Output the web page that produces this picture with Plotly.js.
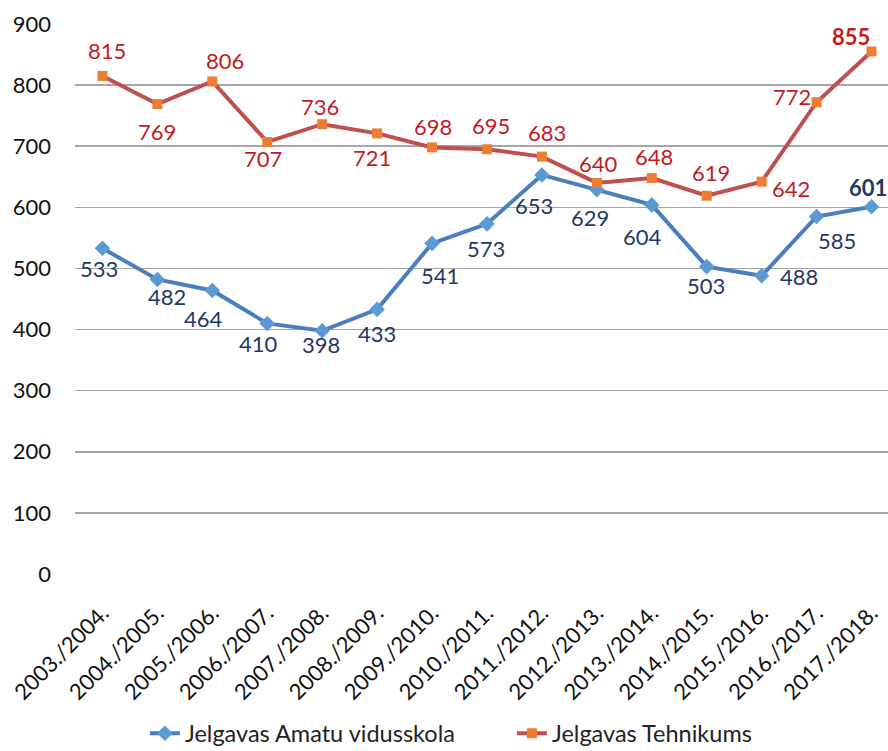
<!DOCTYPE html>
<html><head><meta charset="utf-8">
<script src="https://cdn.plot.ly/plotly-3.0.1.min.js"></script>
<style>html,body{margin:0;padding:0;overflow:hidden;background:#fff}</style>
</head><body><div id="chart" style="width:888px;height:751px"></div>
<script>
const categories = ["2003./2004.","2004./2005.","2005./2006.","2006./2007.","2007./2008.","2008./2009.","2009./2010.","2010./2011.","2011./2012.","2012./2013.","2013./2014.","2014./2015.","2015./2016.","2016./2017.","2017./2018."];
const amatuValues = [533,482,464,410,398,433,541,573,653,629,604,503,488,585,601];
const tehnikumsValues = [815,769,806,707,736,721,698,695,683,640,648,619,642,772,855];
const seriesNames = ["Jelgavas Amatu vidusskola","Jelgavas Tehnikums"];
const yTicks = [0,100,200,300,400,500,600,700,800,900];

// label placement offsets in pixels [dx, dy(up)] — styling only
const amatuLabelOffsets = [[-3,-20],[10,-17],[-9,-28],[-9,-20],[-1,-14],[0,-24],[8,-32],[-1,-25],[-8,-31],[-7,-28],[-9,-32],[-1,-19],[37,-1],[20,-24],[-4,19]];
const tehLabelOffsets = [[5,25],[0,-27],[13,21],[-4,-17],[-2,18],[-5,-24],[1,21],[4,24],[5,24],[2,19],[2,22],[4,23],[29,-7],[-25,6],[-21,15]];

const xs = categories.map((c,i)=>i);
const font = "Lato, 'Open Sans', sans-serif";
const blueLabel = "#1f3864", redLabel = "#c41a1f";

const traces = [
  {x: xs, y: amatuValues, name: seriesNames[0], type: "scatter", mode: "lines+markers",
   line: {color: "#4a7ebf", width: 4}, marker: {symbol: "diamond", size: 12, color: "#5b9bd5"},
   cliponaxis: false, hoverinfo: "none"},
  {x: xs, y: tehnikumsValues, name: seriesNames[1], type: "scatter", mode: "lines+markers",
   line: {color: "#c0504d", width: 4}, marker: {symbol: "square", size: 10, color: "#ed7d31"},
   cliponaxis: false, hoverinfo: "none"}
];

function labels(values, offsets, color) {
  return values.map((v,i)=>({
    x: xs[i], y: v, xref: "x", yref: "y", showarrow: false,
    text: i === values.length-1 ? "<b>"+v+"</b>" : String(v),
    xanchor: "center", yanchor: "middle",
    xshift: offsets[i][0], yshift: offsets[i][1],
    font: {family: font, size: 22, color: color}
  }));
}

const layout = {
  width: 888, height: 751,
  margin: {l: 75, r: 0, t: 24, b: 177, autoexpand: false},
  paper_bgcolor: "#fff", plot_bgcolor: "#fff",
  showlegend: true,
  legend: {orientation: "h", x: 0.086, xanchor: "left", y: -0.29, yanchor: "middle",
           font: {family: font, size: 23.5, color: "#222"}, entrywidth: 322, entrywidthmode: "pixels",
           tracegroupgap: 0},
  annotations: labels(amatuValues, amatuLabelOffsets, blueLabel).concat(labels(tehnikumsValues, tehLabelOffsets, redLabel)),
  xaxis: {range: [-0.5, 14.3], tickvals: xs, ticktext: categories, tickangle: -45,
          tickfont: {family: font, size: 22, color: "#111"}, showgrid: false, zeroline: false,
          showline: false, ticks: "", ticklabelstandoff: 21, fixedrange: true, automargin: false},
  yaxis: {range: [0, 900], tickvals: yTicks, showgrid: true, gridcolor: "#a6a6a6", gridwidth: 1.5,
          zeroline: false, showline: false, ticks: "", ticklabelstandoff: 23,
          tickfont: {family: font, size: 22, color: "#111"}, fixedrange: true, automargin: false}
};
Plotly.newPlot("chart", traces, layout, {displayModeBar: false, staticPlot: true});
</script></body></html>
